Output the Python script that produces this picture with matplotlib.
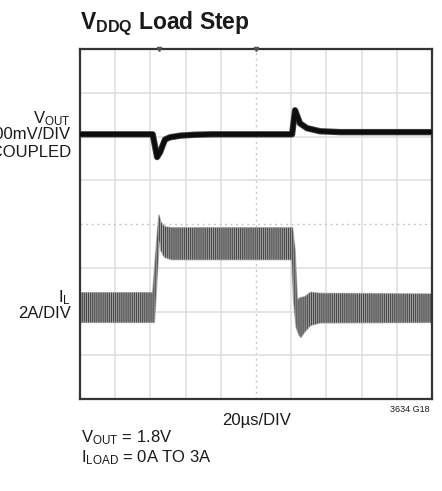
import matplotlib
matplotlib.use('Agg')
import matplotlib.pyplot as plt
import numpy as np

plt.rcParams['font.family'] = ['Liberation Sans', 'DejaVu Sans']
plt.rcParams['hatch.linewidth'] = 0.8

# scope settings
t_per_div = 20.0      # us/div
mv_per_div = 100.0    # VOUT, mV/div
a_per_div = 2.0       # IL, A/div

# VOUT trace, AC coupled deviation (us, mV)
vout_t = [0, 41.3, 42.5, 43.8, 45.5, 47.0, 48.3, 51.0, 57.0, 65.0, 75.0,
          120.5, 122.2, 125.0, 129.0, 136.4, 148.0, 200]
vout_mv = [0, 0, -25, -52, -41, -25, -12, -7, -3, -1, 0,
           0, 55, 25, 14, 7, 5, 5]

# inductor current ripple envelope (us, A)
il_up_t = [0, 41.3, 43.6, 44.8, 46.0, 48.0, 52.0, 120.8, 122.2, 123.5,
           125.0, 127.8, 131.0, 136.4, 200]
il_up_a = [0.68, 0.68, 3.1, 4.24, 3.9, 3.7, 3.65, 3.65, 2.64, 0.36,
           0.45, 0.5, 0.7, 0.65, 0.62]
il_lo_t = [0, 42.3, 45.1, 46.0, 48.0, 52.0, 120.4, 121.3, 122.8, 124.4,
           125.5, 127.8, 131.0, 136.4, 200]
il_lo_a = [-0.68, -0.68, 3.1, 2.6, 2.3, 2.19, 2.19, 0.36, -0.9, -1.25,
           -1.37, -1.1, -0.82, -0.7, -0.68]

# trace positions on the screen, in divisions from center
vout_pos = 2.05
il_pos = -1.91

W, H = 442, 491
fig = plt.figure(figsize=(W / 100, H / 100), dpi=100)
ax = fig.add_axes([80 / W, 1 - 399 / H, 352 / W, 350 / H])
ax.set_xlim(0, 10 * t_per_div)
ax.set_ylim(-4, 4)

# graticule
for k in range(1, 10):
    x = k * t_per_div
    if k == 5:
        ax.axvline(x, color='#c8c8c8', lw=1.0, ls=(0, (1.5, 2.5)), zorder=0)
    else:
        ax.axvline(x, color='#dedede', lw=1.1, zorder=0)
for k in range(-3, 4):
    if k == 0:
        ax.axhline(k, color='#c8c8c8', lw=1.0, ls=(0, (1.5, 2.5)), zorder=0)
    else:
        ax.axhline(k, color='#dedede', lw=1.1, zorder=0)

# IL band: soft outline plus vertical ripple texture
xs = np.concatenate([il_up_t, il_lo_t[::-1]])
ys = np.concatenate([np.array(il_up_a), np.array(il_lo_a)[::-1]]) / a_per_div + il_pos
ax.fill(xs, ys, facecolor='#a4a4a4', edgecolor='#b4b4b4', lw=1.0, zorder=2)
ax.fill(xs, ys, facecolor='none', edgecolor='#474747', hatch='||||||||',
        lw=0, zorder=2)

# VOUT
ax.plot(vout_t, np.array(vout_mv) / mv_per_div + vout_pos, color='#4a4a4a',
        lw=4.6, solid_joinstyle='round', zorder=3)
ax.plot(vout_t, np.array(vout_mv) / mv_per_div + vout_pos, color='#0d0d0d',
        lw=3.4, solid_joinstyle='round', zorder=3)

# trigger marks along top edge
ax.plot([45, 100], [4, 4], 'v', color='#555555', ms=3, clip_on=False, zorder=4)

ax.set_xticks([])
ax.set_yticks([])
for s in ax.spines.values():
    s.set_color('#333333')
    s.set_linewidth(1.6)

tc = '#1a1a1a'
fs = 12
fig.text(80 / W, 1 - 29 / H, r'$\mathregular{V_{DDQ}}$ Load Step', fontsize=16.5,
         fontweight='bold', ha='left', va='baseline', color=tc)

fig.text(71 / W, 1 - 123 / H, r'$\mathregular{V_{OUT}}$', fontsize=fs,
         ha='right', va='baseline', color=tc)
fig.text(71 / W, 1 - 139 / H, '100mV/DIV', fontsize=fs, ha='right', va='baseline', color=tc)
fig.text(71 / W, 1 - 157 / H, 'AC COUPLED', fontsize=fs, ha='right', va='baseline', color=tc)
fig.text(71 / W, 1 - 302 / H, r'$\mathregular{I_{L}}$', fontsize=fs,
         ha='right', va='baseline', color=tc)
fig.text(71 / W, 1 - 318 / H, '2A/DIV', fontsize=fs, ha='right', va='baseline', color=tc)

fig.text(257 / W, 1 - 425 / H, '20µs/DIV', fontsize=fs, ha='center', va='baseline', color=tc)
fig.text(430 / W, 1 - 412 / H, '3634 G18', fontsize=6.5, ha='right', va='baseline', color=tc)
fig.text(81 / W, 1 - 442 / H, r'$\mathregular{V_{OUT}}$ = 1.8V', fontsize=fs,
         ha='left', va='baseline', color=tc)
fig.text(81 / W, 1 - 462 / H, r'$\mathregular{I_{LOAD}}$ = 0A TO 3A', fontsize=fs,
         ha='left', va='baseline', color=tc)

fig.savefig('out.png', dpi=100)
